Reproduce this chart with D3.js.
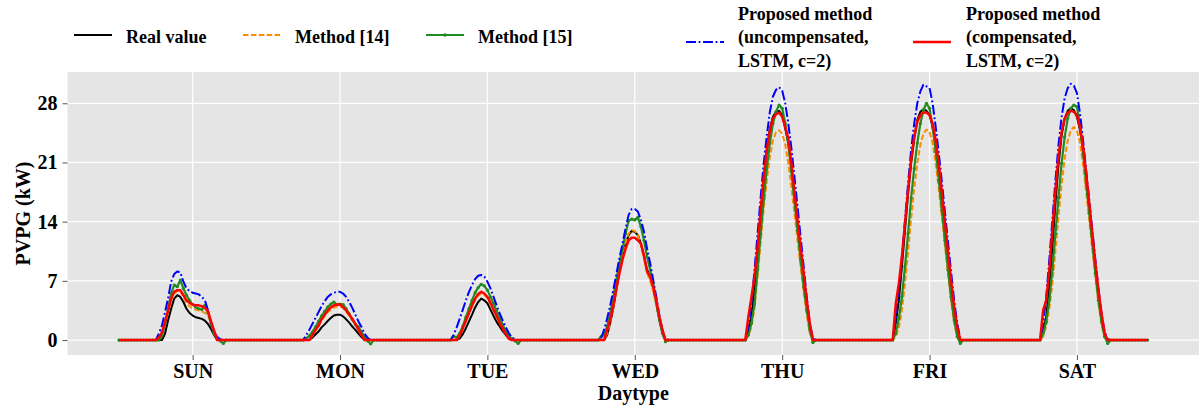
<!DOCTYPE html>
<html>
<head>
<meta charset="utf-8">
<script src="https://cdn.jsdelivr.net/npm/d3@7"></script>
<style>
  body { margin: 0; background: #fff; }
  svg { display: block; }
  text { font-family: "Liberation Serif", "Times New Roman", serif; font-weight: bold; fill: #000; }
</style>
</head>
<body>
<svg id="chart" width="1202" height="414"></svg>
<script>
// half-hour samples, 48 per day; values listed for slots 12..35 (06:00-17:30), zero elsewhere
var days = ["SUN", "MON", "TUE", "WED", "THU", "FRI", "SAT"];
var yTicks = [0, 7, 14, 21, 28];
var firstSlot = 12;

var realValue = [
  [0,0,0,0.75,2.3,3.7,4.9,5.3,5.1,4.5,3.7,3.2,2.9,2.7,2.6,2.5,2.3,1.9,1.3,0.6,0,0,0,0],
  [0,0,0,0.28,0.65,1.0,1.5,1.85,2.25,2.6,2.9,3.0,3.0,2.8,2.45,2.05,1.6,1.2,0.75,0.35,0,0,0,0],
  [0,0,0,0.2,0.7,1.4,2.2,3.0,3.85,4.5,4.9,4.7,4.35,3.6,2.85,2.15,1.6,1.05,0.6,0.2,0,0,0,0],
  [0,0,0,0.6,2.0,3.75,5.9,8.1,9.85,11.3,12.4,12.9,12.8,12.4,11.4,9.85,8.3,7.5,6.1,4.3,2.4,0.8,0,0],
  [0,1.0,2.75,5.9,9.85,14.6,18.9,22.5,25.0,26.4,27.0,27.1,26.6,25.0,23.3,20.5,17.1,13.8,10.4,7.3,4.1,1.6,0,0],
  [0,2.0,4.7,8.7,13.0,17.3,20.9,23.8,26.0,27.0,27.3,27.1,26.6,25.2,23.1,20.3,16.9,13.4,9.85,6.5,3.35,1.2,0,0],
  [0,1.2,2.75,6.3,11.0,16.2,20.7,24.2,26.2,27.1,27.4,27.2,26.4,24.8,22.5,19.3,15.8,12.2,8.7,5.5,2.75,0.6,0,0]
];
var method14 = [
  [0,0.2,0.8,2.0,3.3,4.7,5.5,5.8,5.8,5.1,4.4,4.0,3.7,3.6,3.5,3.4,3.2,2.9,2.0,1.0,0,0,0,0],
  [0,0,0,0.5,1.1,1.6,2.3,2.8,3.3,3.6,3.85,4.0,3.95,3.8,3.4,2.9,2.4,1.8,1.2,0.55,0,0,0,0],
  [0,0,0,0.5,1.3,2.2,3.1,3.95,4.7,5.25,5.5,5.35,4.95,4.25,3.5,2.75,2.0,1.3,0.7,0.2,0,0,0,0],
  [0,0,0,0.8,2.1,3.9,6.0,8.2,10.0,11.5,12.6,13.0,12.9,12.4,11.2,9.6,8.0,7.0,5.8,4.2,2.4,0.9,0,0],
  [0,0.5,1.6,3.75,7.5,11.6,15.6,18.9,21.7,23.6,24.6,24.8,24.4,23.1,20.9,18.1,15.0,11.8,8.7,5.7,2.95,0.8,0,0],
  [0,0.4,1.4,3.5,6.7,10.4,14.4,17.9,20.9,23.1,24.4,24.9,24.6,23.3,20.9,17.9,14.6,11.2,7.9,4.7,2.0,0.4,0,0],
  [0,0.4,1.6,3.75,6.7,10.6,14.6,18.3,21.5,23.6,24.8,25.2,24.8,23.3,20.7,17.5,14.2,10.8,7.5,4.3,1.8,0.4,0,0]
];
var method15 = [
  [0,0,0.5,1.9,3.7,5.5,6.5,6.3,7.1,6.1,5.3,4.7,4.2,3.9,3.7,3.6,4.1,3.3,1.9,0.75,0.2,-0.1,-0.4,0],
  [0,0.2,0.5,0.95,1.55,2.2,2.85,3.4,3.9,4.25,4.5,4.2,4.25,4.2,3.7,3.1,2.45,1.85,1.55,0.95,0.4,-0.1,-0.45,0],
  [0,0.45,0.3,0.8,1.65,2.7,3.7,4.7,5.6,6.2,6.6,6.4,5.9,5.1,4.35,3.45,2.55,1.8,0.95,0.45,0.15,-0.1,-0.4,0],
  [0,0.4,0.6,1.6,3.15,5.1,7.1,9.1,10.8,12.6,14.1,14.3,14.2,14.5,13.4,11.8,9.85,8.3,6.7,4.5,2.4,0.8,-0.2,0],
  [0,0.6,2.0,4.3,8.3,12.6,16.6,20.3,23.3,25.6,27.0,27.8,27.4,25.6,23.1,19.9,16.4,13.0,9.5,6.3,3.55,1.2,-0.3,0],
  [0,0.8,2.55,5.1,8.7,12.6,16.8,20.3,23.3,25.6,27.2,28.0,27.4,25.2,22.3,18.9,15.4,11.8,8.3,5.1,2.4,0.4,-0.4,0],
  [0,0.8,2.15,4.7,8.3,12.6,16.9,20.9,24.0,26.2,27.4,27.8,27.6,25.4,22.1,18.5,15.0,11.4,7.9,4.7,2.15,0.4,-0.4,0]
];
var uncompensated = [
  [0,0.75,1.7,3.3,4.9,6.9,7.8,8.1,8.0,6.9,6.1,5.8,5.6,5.5,5.4,5.1,4.7,3.5,2.1,0.95,0.35,0.1,0,0],
  [0,0.6,1.2,1.9,2.6,3.3,4.0,4.6,5.1,5.4,5.6,5.7,5.7,5.5,5.1,4.5,3.8,3.0,2.2,1.55,0.75,0.25,0,0],
  [0,0.6,1.5,2.55,3.6,4.7,5.7,6.5,7.2,7.6,7.7,7.5,6.9,6.1,5.1,4.1,3.15,2.3,1.5,0.8,0.3,0.1,0,0],
  [0,0.2,1.2,2.55,4.1,5.9,7.8,9.7,11.4,13.2,14.8,15.5,15.5,15.2,14.2,12.8,10.8,9.1,7.1,5.1,2.95,1.2,0.1,0],
  [0,1.6,4.3,8.3,12.6,16.9,20.9,24.2,27.0,28.8,29.6,29.9,29.5,28.0,25.6,22.7,19.3,15.8,12.2,8.7,5.1,2.0,0.2,0],
  [0,2.55,5.9,9.85,14.2,18.5,22.5,25.6,28.0,29.4,30.2,30.0,29.8,28.0,25.2,22.1,18.7,15.2,11.6,8.1,4.7,2.0,0.2,0],
  [0,2.0,5.1,9.5,14.2,18.9,23.1,26.4,28.6,29.8,30.3,30.1,29.2,26.8,23.6,20.1,16.6,13.0,9.5,6.1,3.15,1.0,0.1,0]
];
var compensated = [
  [0,0.3,0.9,2.1,3.5,4.9,5.7,5.9,5.9,5.3,4.7,4.4,4.2,4.1,4.1,4.0,3.8,3.4,2.2,1.1,0,0,0,0],
  [0,0,0,0.6,1.2,1.7,2.45,3.0,3.5,3.85,4.1,4.2,4.2,3.9,3.5,3.0,2.5,1.9,1.25,0.6,0,0,0,0],
  [0,0,0,0.6,1.4,2.3,3.2,4.1,4.9,5.45,5.7,5.5,5.1,4.4,3.6,2.85,2.05,1.35,0.7,0.15,0,0,0,0],
  [0,0,0,1.2,2.4,4.1,6.1,7.9,9.5,10.8,11.8,12.1,12.1,11.8,11.4,10.0,8.1,7.5,6.3,4.7,2.75,1.2,0,0],
  [0,2.75,5.1,7.5,11.0,15.4,19.3,22.5,24.8,26.2,26.7,26.9,26.4,25.2,23.8,20.9,17.5,14.2,11.0,7.9,4.7,2.0,0,0],
  [0,4.3,6.7,9.85,13.8,17.7,21.3,24.0,25.8,26.6,26.9,26.9,26.6,25.6,23.6,20.9,17.5,14.0,10.4,7.1,3.9,1.6,0,0],
  [0,3.55,4.7,8.3,13.0,17.7,21.7,24.6,26.2,26.9,27.1,27.0,26.6,25.2,22.9,19.7,16.2,12.6,9.1,5.9,3.15,0.8,0,0]
];

function expand(dayVals) {
  var out = [];
  dayVals.forEach(function (vals) {
    for (var s = 0; s < 48; s++) {
      var v = (s >= firstSlot && s < firstSlot + vals.length) ? vals[s - firstSlot] : 0;
      out.push(v);
    }
  });
  return out;
}

var series = [
  { name: ["Real value"], data: expand(realValue), color: "#000000", width: 2, dash: null, markers: false, lx: 74, tx: 126, ly: 35 },
  { name: ["Method [14]"], data: expand(method14), color: "#FF8C00", width: 2, dash: "5.5,2.4", markers: false, lx: 243, tx: 295, ly: 35 },
  { name: ["Method [15]"], data: expand(method15), color: "#228B22", width: 2.2, dash: null, markers: true, lx: 426, tx: 478, ly: 35 },
  { name: ["Proposed method", "(uncompensated,", "LSTM, c=2)"], data: expand(uncompensated), color: "#0000FF", width: 2, dash: "10,2.6,1.8,2.6", markers: false, lx: 686, tx: 738, ly: 42 },
  { name: ["Proposed method", "(compensated,", "LSTM, c=2)"], data: expand(compensated), color: "#FF0000", width: 2.5, dash: null, markers: false, lx: 913, tx: 966, ly: 42 }
];

var svg = d3.select("#chart");
var plotLeft = 67.5, plotRight = 1199, plotTop = 72, plotBottom = 355;
var nPts = days.length * 48;

var xScale = d3.scaleLinear().domain([-0.05 * (nPts - 1), 1.05 * (nPts - 1)]).range([plotLeft, plotRight]);
var yScale = d3.scaleLinear().domain([-1.77, 31.7]).range([plotBottom, plotTop]);
var dayTicks = days.map(function (d, i) { return 24 + 48 * i; });

svg.append("rect")
  .attr("x", plotLeft).attr("y", plotTop)
  .attr("width", plotRight - plotLeft).attr("height", plotBottom - plotTop)
  .style("fill", "#E5E5E5");

// grid
svg.append("g").selectAll("line").data(yTicks).enter().append("line")
  .attr("x1", plotLeft).attr("x2", plotRight)
  .attr("y1", function (d) { return yScale(d); }).attr("y2", function (d) { return yScale(d); })
  .style("stroke", "#fff").style("stroke-width", 1.2);
svg.append("g").selectAll("line").data(dayTicks).enter().append("line")
  .attr("y1", plotTop).attr("y2", plotBottom)
  .attr("x1", function (d) { return xScale(d); }).attr("x2", function (d) { return xScale(d); })
  .style("stroke", "#fff").style("stroke-width", 1.2);

// axes
var gy = svg.append("g")
  .attr("transform", "translate(" + plotLeft + ",0)")
  .call(d3.axisLeft(yScale).tickValues(yTicks).tickSize(5).tickPadding(5));
var gx = svg.append("g")
  .attr("transform", "translate(0," + plotBottom + ")")
  .call(d3.axisBottom(xScale).tickValues(dayTicks).tickSize(5).tickPadding(4)
    .tickFormat(function (d, i) { return days[i]; }));
[gx, gy].forEach(function (g) {
  g.select(".domain").remove();
  g.selectAll("line").style("stroke", "#555").style("stroke-width", 1);
  g.selectAll("text").style("font-size", "20px").style("fill", "#000");
});

svg.append("text")
  .attr("x", (plotLeft + plotRight) / 2).attr("y", 400)
  .attr("text-anchor", "middle")
  .style("font-size", "20px")
  .text("Daytype");

svg.append("text")
  .attr("text-anchor", "middle")
  .attr("transform", "translate(30," + (plotTop + plotBottom) / 2 + ")rotate(-90)")
  .style("font-size", "20px")
  .text("PVPG (kW)");

// lines
var line = d3.line()
  .x(function (d, i) { return xScale(i); })
  .y(function (d) { return yScale(d); });

series.forEach(function (s) {
  svg.append("path")
    .datum(s.data)
    .attr("d", line)
    .style("fill", "none")
    .style("stroke", s.color)
    .style("stroke-width", s.width)
    .style("stroke-dasharray", s.dash)
    .style("stroke-linejoin", "round");
  if (s.markers) {
    svg.append("g").selectAll("circle").data(s.data).enter().append("circle")
      .attr("cx", function (d, i) { return xScale(i); })
      .attr("cy", function (d) { return yScale(d); })
      .attr("r", 1.6)
      .style("fill", s.color);
  }
});

// legend
series.forEach(function (s) {
  var g = svg.append("g");
  g.append("line")
    .attr("x1", s.lx).attr("x2", s.lx + 38)
    .attr("y1", s.ly).attr("y2", s.ly)
    .style("stroke", s.color)
    .style("stroke-width", s.width)
    .style("stroke-dasharray", s.dash);
  if (s.markers) {
    g.append("circle").attr("cx", s.lx + 19).attr("cy", s.ly).attr("r", 1.8).style("fill", s.color);
  }
  var baseY = s.name.length === 1 ? 43 : 19.5;
  var t = g.append("text").attr("x", s.tx).attr("y", baseY).style("font-size", "18px");
  s.name.forEach(function (ln, i) {
    t.append("tspan").attr("x", s.tx).attr("y", baseY + i * 23.5).text(ln);
  });
});
</script>
</body>
</html>
